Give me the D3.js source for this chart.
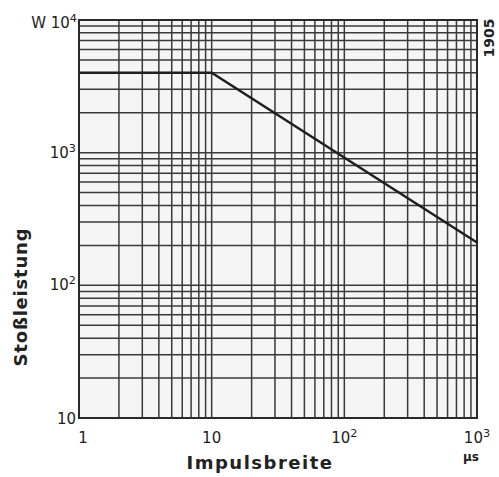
<!DOCTYPE html>
<html>
<head>
<meta charset="utf-8">
<script src="https://cdn.jsdelivr.net/npm/d3@7"></script>
<style>
  body { margin: 0; background: #fff; }
  text { font-family: "DejaVu Sans", sans-serif; fill: #222; }
</style>
</head>
<body>
<div id="chart"></div>
<script>
// data
const pulseWidth = [1, 10, 1000];       // µs
const pulsePower = [4000, 4000, 210];   // W
const xTicks = [1, 10, 100, 1000];
const xTickExp = ["", "", "2", "3"];    // "1", "10", "10²", "10³"
const yTicks = [10, 100, 1000];
const yTickExp = ["", "2", "3"];        // "10", "10²", "10³"

const width = 499, height = 477;
const margin = {top: 20, right: 22, bottom: 59, left: 79};

const svg = d3.select("#chart")
    .append("svg")
    .attr("width", width)
    .attr("height", height);

const x = d3.scaleLog().domain([1, 1000]).range([margin.left, width - margin.right]);
const y = d3.scaleLog().domain([10, 10000]).range([height - margin.bottom, margin.top]);

// base + superscript as tspans
function powLabel(sel, base, exp, size) {
  sel.append("tspan").text(base);
  if (exp) sel.append("tspan")
      .attr("dy", -size * 0.4)
      .attr("font-size", size * 0.75)
      .text(exp);
}

// plot background
svg.append("rect")
    .attr("x", x(1)).attr("y", y(10000))
    .attr("width", x(1000) - x(1))
    .attr("height", y(10) - y(10000))
    .attr("fill", "#f5f5f5");

// log grid: 1..9 in every decade
const gridX = [], gridY = [];
[1, 10, 100].forEach(d => d3.range(1, 10).forEach(k => gridX.push(d * k)));
[10, 100, 1000].forEach(d => d3.range(1, 10).forEach(k => gridY.push(d * k)));

svg.append("g")
  .selectAll("line")
  .data(gridX)
  .enter().append("line")
    .attr("x1", d => x(d)).attr("x2", d => x(d))
    .attr("y1", y(10)).attr("y2", y(10000))
    .attr("stroke", "#3a3a3a").attr("stroke-width", 1.5);

svg.append("g")
  .selectAll("line")
  .data(gridY)
  .enter().append("line")
    .attr("y1", d => y(d)).attr("y2", d => y(d))
    .attr("x1", x(1)).attr("x2", x(1000))
    .attr("stroke", "#3a3a3a").attr("stroke-width", 1.5);

// frame
svg.append("rect")
    .attr("x", x(1)).attr("y", y(10000))
    .attr("width", x(1000) - x(1))
    .attr("height", y(10) - y(10000))
    .attr("fill", "none")
    .attr("stroke", "#2a2a2a").attr("stroke-width", 2);

// curve
const pts = pulseWidth.map((d, i) => [d, pulsePower[i]]);
svg.append("path")
    .datum(pts)
    .attr("fill", "none")
    .attr("stroke", "#1e1e1e")
    .attr("stroke-width", 2.4)
    .attr("d", d3.line().x(d => x(d[0])).y(d => y(d[1])));

// x tick labels
svg.append("g")
  .selectAll("text")
  .data(xTicks)
  .enter().append("text")
    .attr("x", (d, i) => x(d) + (i === 0 ? 4 : 0))
    .attr("y", y(10) + 25)
    .attr("text-anchor", "middle")
    .attr("font-size", 15)
    .each(function(d, i) {
      powLabel(d3.select(this), d === 1 ? "1" : "10", xTickExp[i], 15);
    });

// y tick labels
svg.append("g")
  .selectAll("text")
  .data(yTicks)
  .enter().append("text")
    .attr("x", x(1) - 3)
    .attr("y", d => y(d) + (d === 10 ? 6 : 5))
    .attr("text-anchor", "end")
    .attr("font-size", 15)
    .each(function(d, i) {
      powLabel(d3.select(this), "10", yTickExp[i], 15);
    });

// top label "W 10^4"
const topLbl = svg.append("text")
    .attr("x", x(1) - 2).attr("y", y(10000) + 8)
    .attr("text-anchor", "end")
    .attr("font-size", 15);
powLabel(topLbl, "W  10", "4", 15);

// unit under x axis
svg.append("text")
    .attr("x", x(1000) - 6).attr("y", y(10) + 43)
    .attr("text-anchor", "middle")
    .attr("font-size", 12)
    .attr("font-weight", "bold")
    .text("µs");

// axis titles
svg.append("text")
    .attr("x", 260).attr("y", y(10) + 51)
    .attr("text-anchor", "middle")
    .attr("font-size", 18)
    .attr("font-weight", "bold")
    .attr("letter-spacing", 1.5)
    .text("Impulsbreite");

svg.append("text")
    .attr("transform", `translate(27, 297) rotate(-90)`)
    .attr("text-anchor", "middle")
    .attr("font-size", 18)
    .attr("font-weight", "bold")
    .attr("letter-spacing", 0.8)
    .text("Stoßleistung");

// figure number
svg.append("text")
    .attr("transform", `translate(494, 38) rotate(-90)`)
    .attr("text-anchor", "middle")
    .attr("font-size", 14)
    .attr("font-weight", "bold")
    .text("1905");
</script>
</body>
</html>
